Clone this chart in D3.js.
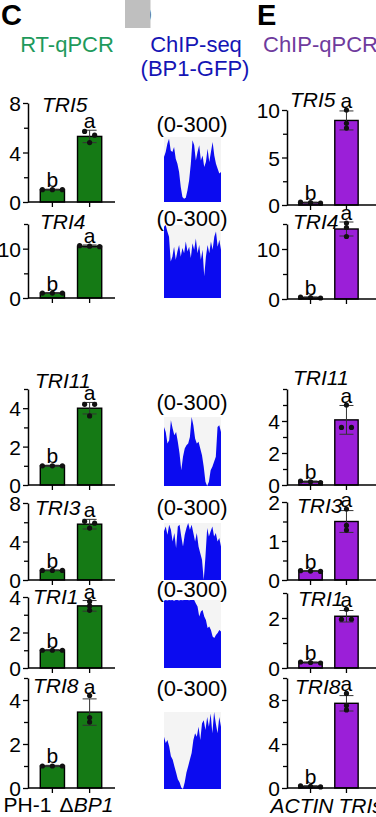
<!DOCTYPE html>
<html><head><meta charset="utf-8">
<script src="https://cdn.jsdelivr.net/npm/d3@7"></script>
<style>
body{margin:0;background:#fff;overflow:hidden}
svg{display:block}
text{font-family:"Liberation Sans",Arial,Helvetica,sans-serif}
</style>
</head><body>
<svg id="c" width="376" height="817"></svg>
<script>
// ---------------- DATA ----------------
const genes = ["TRI5","TRI4","TRI11","TRI3","TRI1","TRI8"];
const rtGroups = ["PH-1","ΔBP1"];
const qGroups = ["ACTIN","TRI"];
const sigLetters = ["b","a"];

// RT-qPCR (relative expression)
const rtMean = [[1,5.3],[1,10.5],[1,4.0],[1,5.8],[1,3.5],[1,3.45]];
const rtSD   = [[0.03,0.5],[0.05,0.25],[0.03,0.3],[0.03,0.5],[0.03,0.3],[0.03,0.6]];
const rtPts  = [
  [[1,1,1],[4.8,5.4,5.7]],
  [[1,1,1],[10.4,10.5,10.6]],
  [[1,1,1],[3.6,4.2,4.2]],
  [[1,1,1],[5.4,5.9,6.1]],
  [[1,1,1],[3.25,3.5,3.75]],
  [[1,1,1],[3.0,3.2,4.2]]
];
const rtMax = [8,15,5,8,4,5];
const rtTickLabels = [[0,4,8],[0,10],[0,2,4],[0,4,8],[0,2,4],[0,2,4]];
const rtMinorTicks = [[2,6],[5,15],[1,3,5],[2,6],[1,3],[1,3,5]];

// ChIP-qPCR (enrichment)
const qMean = [[0.25,8.9],[0.3,14.0],[0.2,4.07],[0.23,1.5],[0.22,2.07],[0.15,7.7]];
const qSD   = [[0.05,1.0],[0.1,1.4],[0.05,0.9],[0.01,0.28],[0.02,0.23],[0.05,0.7]];
const qPts  = [
  [[0.2,0.25,0.3],[8.1,8.6,10.0]],
  [[0.2,0.3,0.4],[12.5,14.3,15.2]],
  [[0.15,0.2,0.25],[3.6,3.6,5.0]],
  [[0.22,0.23,0.24],[1.28,1.4,1.82]],
  [[0.2,0.22,0.24],[1.95,1.95,2.35]],
  [[0.1,0.15,0.2],[7.1,7.5,8.6]]
];
const qMax = [10,15,6,2,3,10];
const qTickLabels = [[0,5,10],[0,10],[0,2,4],[0,1,2],[0,2],[0,4,8]];
const qMinorTicks = [[2.5,7.5],[5,15],[1,3,5,6],[0.5,1.5],[1,3],[2,6,10]];

// ChIP-seq (BP1-GFP) coverage tracks, range 0-300
const seqRangeLabel = "(0-300)";
const seqMax = 300;
const seqTRI5  = [208,231,269,292,238,231,254,200,177,138,69,23,15,20,54,100,177,285,262,192,231,262,192,215,162,185,246,185,231,277,215,177,154,131,138];
const seqTRI4  = [293,300,273,252,150,170,211,157,191,218,170,205,184,232,191,211,164,225,198,245,184,218,157,198,89,170,218,184,232,198,252,273,211,239,198];
const seqTRI11 = [257,235,185,199,286,250,221,235,192,141,69,127,163,177,185,213,300,264,206,185,192,163,134,84,19,0,19,69,84,105,127,257,264,235];
const seqTRI3  = [256,282,238,291,265,203,247,168,282,291,229,176,238,274,300,265,291,247,203,247,176,141,106,0,124,274,229,256,282,229,247,203,221,176];
const seqTRI1  = [297,300,298,300,299,300,297,300,300,298,300,299,300,300,300,299,300,300,300,285,271,227,249,256,227,212,176,183,168,139,132,146,154,168,161];
const seqTRI8  = [204,179,191,166,128,115,89,64,38,26,6,0,26,64,89,115,140,191,217,204,243,191,255,268,230,281,243,294,217,300,255,217,281,243];
const seqTracks = [seqTRI5, seqTRI4, seqTRI11, seqTRI3, seqTRI1, seqTRI8];

// ---------------- LAYOUT ----------------
const svg = d3.select("#c");
const black = "#000";
const greenBar = "#157a15", purpleBar = "#9b1fd8", seqBlue = "#0b0bf0";

const leftLayout = [
  {top:103, base:202, tx:42, ty:112},
  {top:224, base:298, tx:40, ty:229},
  {top:389, base:485, tx:35, ty:388},
  {top:503, base:580, tx:35, ty:515},
  {top:597, base:668, tx:33, ty:604},
  {top:678, base:788, tx:33, ty:693}
];
const rightLayout = [
  {top:110, base:205, tx:290, ty:107},
  {top:224, base:299, tx:293, ty:229},
  {top:389, base:485, tx:293, ty:385},
  {top:502, base:580, tx:297, ty:513},
  {top:593, base:668, tx:298, ty:606},
  {top:678, base:788, tx:295, ty:694}
];
const seqLayout = [
  {top:137, base:202, ly:132},
  {top:225, base:298, ly:226},
  {top:417, base:486, ly:410},
  {top:523, base:580, ly:515},
  {top:600, base:668, ly:597},
  {top:712, base:789, ly:696}
];

// headers
svg.append("text").attr("x",1).attr("y",25).attr("font-size",29).attr("font-weight","bold").text("C");
svg.append("text").attr("x",131).attr("y",25).attr("font-size",29).attr("font-weight","bold").text("D");
svg.append("rect").attr("x",125).attr("y",0).attr("width",25.5).attr("height",28).attr("fill","#bfbfbf");
svg.append("rect").attr("x",152.5).attr("y",0).attr("width",10).attr("height",30).attr("fill","#fff");
svg.append("text").attr("x",257).attr("y",25).attr("font-size",29).attr("font-weight","bold").text("E");

svg.append("text").attr("x",67).attr("y",52).attr("text-anchor","middle").attr("font-size",22)
   .attr("fill","#1e9a5c").text("RT-qPCR");
svg.append("text").attr("x",196).attr("y",52).attr("text-anchor","middle").attr("font-size",22)
   .attr("fill","#1515b5").text("ChIP-seq");
svg.append("text").attr("x",195).attr("y",76).attr("text-anchor","middle").attr("font-size",22)
   .attr("fill","#1515b5").text("(BP1-GFP)");
svg.append("text").attr("x",263).attr("y",52).attr("font-size",22)
   .attr("fill","#6f3b9d").text("ChIP-qPCR");

function beeswarm(vals, y, spacing){
  const idx = vals.map((v,i)=>({v,i,py:y(v)})).sort((a,b)=>a.py-b.py);
  const off = new Array(vals.length).fill(0);
  let clusters=[], cur=[idx[0]];
  for(let k=1;k<idx.length;k++){
    if(Math.abs(idx[k].py-cur[cur.length-1].py)<4) cur.push(idx[k]); else {clusters.push(cur); cur=[idx[k]];}
  }
  clusters.push(cur);
  clusters.forEach(c=>{ c.forEach((p,j)=>{ off[p.i]=(j-(c.length-1)/2)*spacing; }); });
  return off;
}

function barPanel(gi, L, xRange, xLineEnd, groups, mean, sd, pts, ymax, tickLabels, minor, fill, showX, xLabelFn){
  const g = svg.append("g");
  const x = d3.scaleBand().domain(groups).range(xRange).paddingInner(0.35).paddingOuter(0.33);
  const y = d3.scaleLinear().domain([0,ymax]).range([L.base,L.top]);
  const ax = xRange[0];
  g.selectAll("rect.bar").data(groups).join("rect")
    .attr("x",d=>x(d)).attr("width",x.bandwidth())
    .attr("y",(d,i)=>y(mean[i])).attr("height",(d,i)=>L.base-y(mean[i]))
    .attr("fill",fill).attr("stroke",black).attr("stroke-width",1.4);
  groups.forEach((gname,i)=>{
    const cx = x(gname)+x.bandwidth()/2;
    const y1 = y(mean[i]+sd[i]), y0 = y(Math.max(0,mean[i]-sd[i]));
    const eg = g.append("g").attr("stroke","#333").attr("stroke-width",1);
    eg.append("line").attr("x1",cx).attr("x2",cx).attr("y1",y1).attr("y2",y0);
    eg.append("line").attr("x1",cx-7).attr("x2",cx+7).attr("y1",y1).attr("y2",y1);
    eg.append("line").attr("x1",cx-7).attr("x2",cx+7).attr("y1",y0).attr("y2",y0);
    const off = beeswarm(pts[i], y, 10);
    g.selectAll(null).data(pts[i]).join("circle")
      .attr("cx",(d,k)=>cx+off[k]).attr("cy",d=>y(d)).attr("r",2.6).attr("fill","#111");
    const topV = Math.max(mean[i]+sd[i], d3.max(pts[i]));
    g.append("text").attr("x",cx).attr("y",y(topV)-2).attr("text-anchor","middle")
      .attr("font-size",21).text(sigLetters[i]);
  });
  const ya = g.append("g").attr("transform",`translate(${ax},0)`)
    .call(d3.axisLeft(y).tickValues(tickLabels).tickSize(5).tickSizeOuter(0).tickPadding(2).tickFormat(d3.format("~g")));
  ya.selectAll("text").attr("font-size",21).attr("font-family",'"Liberation Sans",Arial,sans-serif').attr("fill",black).attr("dy","0.36em");
  const ym = g.append("g").attr("transform",`translate(${ax},0)`)
    .call(d3.axisLeft(y).tickValues(minor).tickSize(4).tickSizeOuter(0).tickFormat(""));
  ym.select(".domain").remove();
  g.selectAll(".tick line").attr("stroke",black).attr("stroke-width",1.3);
  ya.select(".domain").attr("stroke",black).attr("stroke-width",1.5);
  const xa = g.append("g").attr("transform",`translate(0,${L.base})`)
    .call(d3.axisBottom(x).tickSize(5).tickSizeOuter(0).tickFormat(""));
  xa.select(".domain").remove();
  xa.selectAll(".tick line").attr("stroke",black).attr("stroke-width",1.3);
  g.append("line").attr("x1",ax).attr("x2",xLineEnd).attr("y1",L.base).attr("y2",L.base)
    .attr("stroke",black).attr("stroke-width",1.5);
  g.append("text").attr("x",L.tx).attr("y",L.ty).attr("font-size",21).attr("font-style","italic").text(genes[gi]);
  if(showX) xLabelFn(g, x);
}

genes.forEach((gname,i)=>{
  barPanel(i, leftLayout[i], [28,114], 115, rtGroups, rtMean[i], rtSD[i], rtPts[i], rtMax[i],
    rtTickLabels[i], rtMinorTicks[i], greenBar, i===genes.length-1, (g,x)=>{
      const yb = 812;
      g.append("text").attr("x",x(rtGroups[0])+x.bandwidth()/2-1).attr("y",yb).attr("text-anchor","end")
        .attr("font-size",21).text(rtGroups[0]);
      const t = g.append("text").attr("x",x(rtGroups[1])+x.bandwidth()/2-30).attr("y",yb).attr("font-size",21);
      t.append("tspan").text(rtGroups[1].slice(0,1));
      t.append("tspan").attr("font-style","italic").text(rtGroups[1].slice(1));
    });
  barPanel(i, rightLayout[i], [287,370], 376, qGroups, qMean[i], qSD[i], qPts[i], qMax[i],
    qTickLabels[i], qMinorTicks[i], purpleBar, i===genes.length-1, (g,x)=>{
      const yb = 813;
      g.append("text").attr("x",x(qGroups[0])+x.bandwidth()/2+23).attr("y",yb).attr("text-anchor","end")
        .attr("font-size",21).attr("font-style","italic").text(qGroups[0]);
      g.append("text").attr("x",x(qGroups[1])+x.bandwidth()/2-8).attr("y",yb)
        .attr("font-size",21).attr("font-style","italic").text(qGroups[1]+"s");
    });
  const S = seqLayout[i];
  const data = seqTracks[i];
  const sx = d3.scaleLinear().domain([0,data.length-1]).range([164,221]);
  const sy = d3.scaleLinear().domain([0,seqMax]).range([S.base,S.top]);
  svg.append("rect").attr("x",164).attr("y",S.top).attr("width",57).attr("height",S.base-S.top).attr("fill","#f4f4f4");
  svg.append("path").datum(data)
    .attr("d",d3.area().x((d,k)=>sx(k)).y0(S.base).y1(d=>sy(d)).curve(d3.curveLinear))
    .attr("fill",seqBlue);
  svg.append("text").attr("x",192).attr("y",S.ly).attr("text-anchor","middle").attr("font-size",22).text(seqRangeLabel);
});
</script>
</body></html>
